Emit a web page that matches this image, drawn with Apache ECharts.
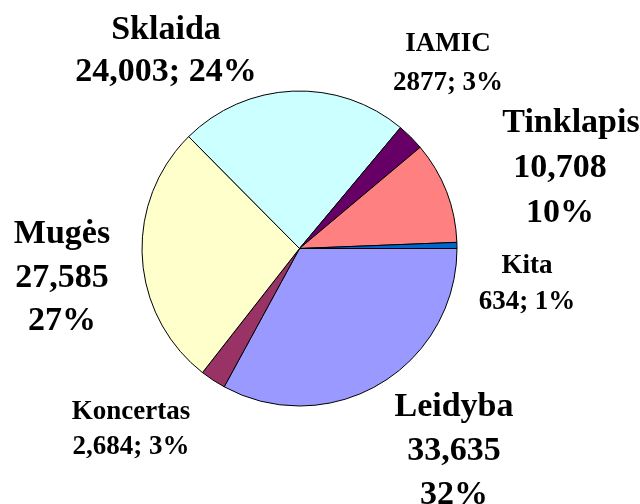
<!DOCTYPE html>
<html>
<head>
<meta charset="utf-8">
<script src="https://cdn.jsdelivr.net/npm/echarts@6/dist/echarts.min.js"></script>
<style>html,body{margin:0;padding:0;background:#fff;}#c{width:640px;height:504px;}</style>
</head>
<body>
<div id="c"></div>
<script>
const categories = ['Leidyba', 'Koncertas', 'Mugės', 'Sklaida', 'IAMIC', 'Tinklapis', 'Kita'];
const values = [33635, 2684, 27585, 24003, 2877, 10708, 634];
const valueLabels = ['33,635', '2,684', '27,585', '24,003', '2877', '10,708', '634'];
const percentLabels = ['32%', '3%', '27%', '24%', '3%', '10%', '1%'];

// presentation (not data)
const colors = ['#9999FF', '#993366', '#FFFFCC', '#CCFFFF', '#660066', '#FF8080', '#0066CC'];
const labelKind = ['stack', 'inline', 'stack', 'inline', 'inline', 'stack', 'inline'];
const labelBig = [true, false, true, true, false, true, false];
const labelPos = [[454, 451], [131, 430], [62, 278], [166, 51], [448, 64], [560, 168], [527, 284]];
const labelLH = [44, 35, 43.5, 42, 39, 45, 36];
const nameShift = [0, 0, 0, 0, 0, 22, 0];

const chart = echarts.init(document.getElementById('c'), null, {renderer: 'canvas'});
const data = categories.map((name, i) => ({
  name: name,
  value: values[i],
  itemStyle: {color: colors[i]},
  label: {
    fontSize: labelBig[i] ? 34 : 27,
    lineHeight: labelLH[i],
    rich: {
      n: {
        fontSize: labelBig[i] ? 34 : 27,
        lineHeight: labelLH[i],
        fontWeight: 'bold',
        fontFamily: '"Liberation Serif", "Times New Roman", serif',
        color: '#000',
        padding: [0, 0, 0, nameShift[i]]
      }
    }
  }
}));

chart.setOption({
  animation: false,
  series: [{
    type: 'pie',
    center: [299.5, 248.5],
    radius: 157.5,
    startAngle: 0,
    clockwise: true,
    avoidLabelOverlap: false,
    silent: true,
    itemStyle: {borderColor: '#000', borderWidth: 1},
    label: {
      show: true,
      position: 'outside',
      color: '#000',
      fontFamily: '"Liberation Serif", "Times New Roman", serif',
      fontWeight: 'bold',
      align: 'center',
      formatter: function (p) {
        const i = p.dataIndex;
        if (labelKind[i] === 'stack') {
          return '{n|' + categories[i] + '}\n' + valueLabels[i] + '\n' + percentLabels[i];
        }
        return '{n|' + categories[i] + '}\n' + valueLabels[i] + '; ' + percentLabels[i];
      }
    },
    labelLine: {show: false},
    labelLayout: function (params) {
      const pos = labelPos[params.dataIndex];
      return {x: pos[0], y: pos[1], align: 'center', verticalAlign: 'middle'};
    },
    emphasis: {disabled: true},
    data: data
  }]
});
</script>
</body>
</html>
